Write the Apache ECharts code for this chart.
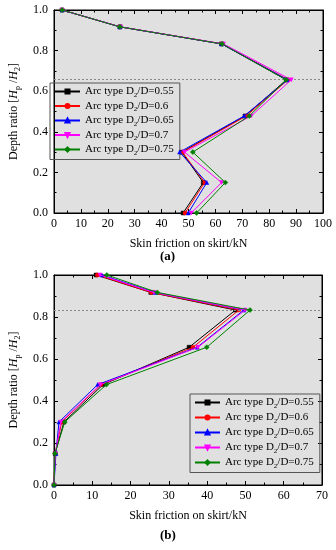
<!DOCTYPE html>
<html><head><meta charset="utf-8">
<script src="https://cdn.jsdelivr.net/npm/echarts@6/dist/echarts.min.js"></script>
<style>html,body{margin:0;padding:0;background:#fff}#c{width:336px;height:550px}</style>
</head><body><div id="c"></div>
<script>
var ratios = ['0.55', '0.6', '0.65', '0.7', '0.75'];
var depthA = [1.0, 0.917, 0.833, 0.656, 0.478, 0.3, 0.15, 0.0];
var a055 = [3, 24.5, 62.3, 86.4, 71.0, 47.5, 55.5, 48.0];
var a060 = [3, 24.6, 62.5, 87.0, 71.5, 47.8, 56.0, 48.7];
var a065 = [3, 24.5, 62.3, 86.8, 70.7, 46.7, 56.8, 49.9];
var a070 = [3, 24.7, 63.0, 88.2, 73.3, 48.5, 62.3, 51.0];
var a075 = [3, 24.5, 62.5, 86.3, 72.6, 51.6, 63.7, 53.0];
var depthB = [1.0, 0.917, 0.833, 0.656, 0.478, 0.3, 0.15, 0.0];
var b055 = [11.0, 25.3, 47.4, 35.3, 12.8, 2.6, 0.3, 0];
var b060 = [11.3, 25.4, 48.3, 36.3, 12.3, 2.0, 0.3, 0];
var b065 = [12.5, 26.4, 49.6, 37.4, 11.4, 1.3, 0.5, 0];
var b070 = [12.0, 26.1, 49.9, 37.6, 12.1, 1.8, 0.35, 0];
var b075 = [13.8, 27.0, 51.2, 39.9, 13.7, 2.8, 0.25, 0];
var dashA = 0.656, dashB = 0.833;
var xTicksA = {min: 0, max: 100, interval: 10};
var xTicksB = {min: 0, max: 70, interval: 10};
var yTicks = {min: 0, max: 1, interval: 0.2};

var F = 'Liberation Serif, Times New Roman, serif';
var colors = ['#000000', '#ff0000', '#0000ff', '#ff00ff', '#008000'];
var symbols = ['rect', 'circle', 'triangle', 'path://M0,0 L10,0 L5,9 Z', 'diamond'];
var names = ratios.map(function (r) { return 'Arc type D2/D=' + r; });
var setsA = [a055, a060, a065, a070, a075];
var setsB = [b055, b060, b065, b070, b075];

function pairs(xs, ys) { return xs.map(function (v, i) { return [v, ys[i]]; }); }

var series = [];
function addSeries(sets, depth, xi, yi, dash) {
  sets.forEach(function (s, k) {
    var ser = {
      type: 'line', name: names[k], xAxisIndex: xi, yAxisIndex: yi,
      data: pairs(s, depth), symbol: symbols[k], symbolSize: k === 4 ? 5 : 4,
      color: colors[k],
      lineStyle: {width: 1, color: colors[k]},
      itemStyle: {color: colors[k], borderColor: colors[k], borderWidth: 0.5},
      emphasis: {disabled: true}, animation: false, z: 3 + k
    };
    if (k === 0) {
      ser.markLine = {silent: true, symbol: 'none', label: {show: false},
        lineStyle: {type: [2, 2], color: '#888', width: 1}, data: [{yAxis: dash}]};
    }
    series.push(ser);
  });
}
addSeries(setsA, depthA, 0, 0, dashA);
addSeries(setsB, depthB, 2, 2, dashB);

var lbl = {fontFamily: F, fontSize: 12, color: '#000'};
function xAx(g, t, pos, show) {
  return {type: 'value', gridIndex: g, position: pos, min: t.min, max: t.max, interval: t.interval,
    axisLine: {show: true, onZero: false, lineStyle: {color: '#000', width: 1}},
    axisTick: {show: true, inside: true, length: 4, lineStyle: {color: '#000'}},
    minorTick: {show: true, splitNumber: 2, length: 2.5, lineStyle: {color: '#000'}},
    splitLine: {show: false},
    axisLabel: show ? Object.assign({margin: 5}, lbl) : {show: false},
    name: show ? 'Skin friction on skirt/kN' : '', nameLocation: 'middle', nameGap: 25,
    nameTextStyle: {fontFamily: F, fontSize: 12, color: '#000'}};
}
function yAx(g, pos, show) {
  return {type: 'value', gridIndex: g, position: pos, min: yTicks.min, max: yTicks.max, interval: yTicks.interval,
    axisLine: {show: true, onZero: false, lineStyle: {color: '#000', width: 1}},
    axisTick: {show: true, inside: true, length: 4, lineStyle: {color: '#000'}},
    minorTick: {show: true, splitNumber: 2, length: 2.5, lineStyle: {color: '#000'}},
    splitLine: {show: false},
    axisLabel: show ? Object.assign({margin: 6, formatter: function (v) { return v.toFixed(1); }}, lbl) : {show: false},
    name: show ? '{t|Depth ratio [}{i|H}{s|p}{t| /}{i|H}{s|2}{t|]}' : '', nameLocation: 'middle', nameGap: 32,
    nameTextStyle: {fontFamily: F, fontSize: 12, color: '#000',
      rich: {t: {fontFamily: F, fontSize: 12, lineHeight: 16},
             i: {fontFamily: F, fontSize: 12, fontStyle: 'italic', lineHeight: 16},
             s: {fontFamily: F, fontSize: 8, lineHeight: 8, verticalAlign: 'bottom'}}}};
}

function legend(left, top, gap) {
  return {show: true, data: names, orient: 'vertical', left: left, top: top,
    itemWidth: 25, itemHeight: 5, itemGap: gap, padding: [3, 6, 3, 4],
    borderColor: '#555', borderWidth: 1, backgroundColor: 'rgba(0,0,0,0)',
    selectedMode: false,
    formatter: function (n) { return '{t|Arc type D}{s|2}{t|/D=' + n.split('=')[1] + '}'; },
    textStyle: {fontFamily: F, fontSize: 11, color: '#000',
      rich: {t: {fontFamily: F, fontSize: 11, lineHeight: 14},
             s: {fontFamily: F, fontSize: 7, lineHeight: 7, verticalAlign: 'bottom'}}}};
}

var option = {
  backgroundColor: '#fff', animation: false,
  title: [
    {text: '(a)', left: 160, top: 250, padding: 0, textStyle: {fontFamily: F, fontSize: 13, fontWeight: 'bold', color: '#000'}},
    {text: '(b)', left: 160, top: 529, padding: 0, textStyle: {fontFamily: F, fontSize: 13, fontWeight: 'bold', color: '#000'}}
  ],
  grid: [
    {left: 49, top: 10, width: 274, height: 203, show: true, backgroundColor: '#e0e0e0', borderColor: '#000', borderWidth: 1},
    {left: 45, top: 275, width: 277, height: 210, show: true, backgroundColor: '#e0e0e0', borderColor: '#000', borderWidth: 1}
  ],
  xAxis: [xAx(0, xTicksA, 'bottom', true), xAx(0, xTicksA, 'top', false), xAx(1, xTicksB, 'bottom', true), xAx(1, xTicksB, 'top', false)],
  yAxis: [yAx(0, 'left', true), yAx(0, 'right', false), yAx(1, 'left', true), yAx(1, 'right', false)],
  legend: [legend(50, 83, 2), legend(190, 394, 2.5)],
  series: series
};
var chart = echarts.init(document.getElementById('c'), null, {renderer: 'canvas'});
chart.setOption(option);
</script></body></html>
